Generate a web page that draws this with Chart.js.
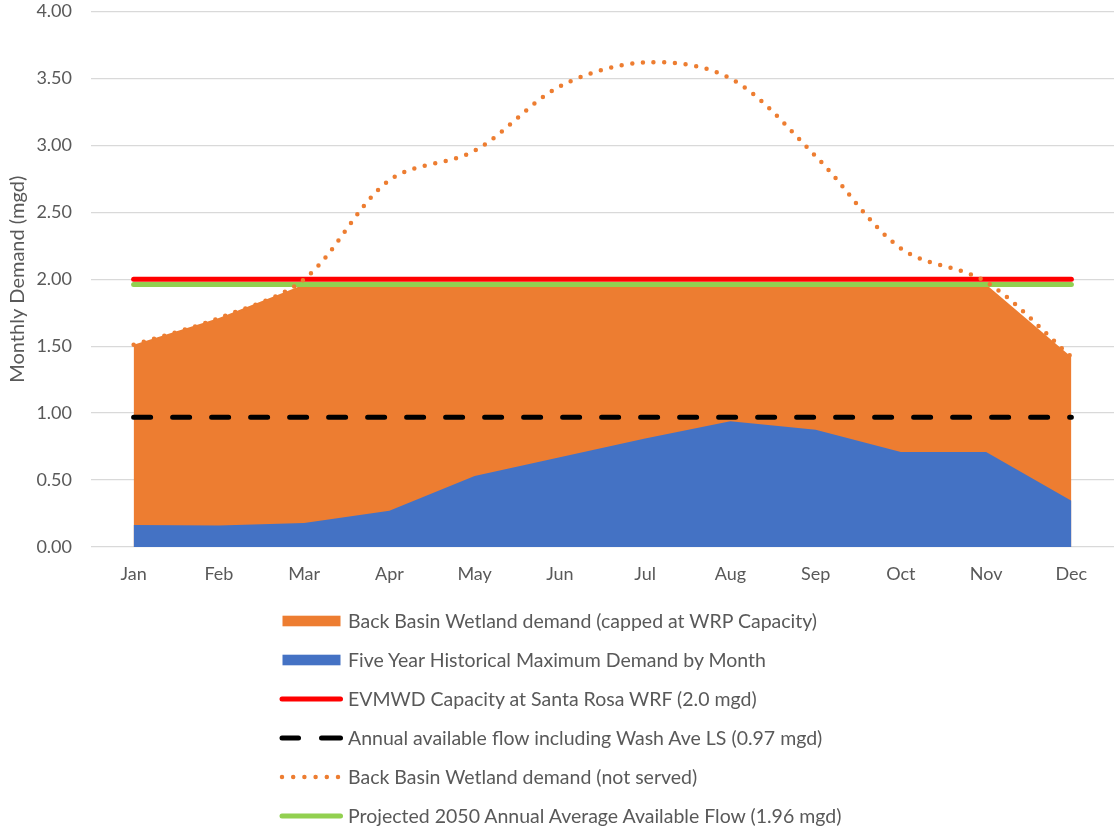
<!DOCTYPE html>
<html>
<head>
<meta charset="utf-8">
<script src="https://cdn.jsdelivr.net/npm/chart.js@4.4.1/dist/chart.umd.min.js"></script>
<style>
  html, body { margin: 0; padding: 0; background: #ffffff; overflow: hidden; }
  #wrap { position: relative; width: 1114px; height: 829px; }
  #legend { position: absolute; left: 279px; top: 0; font-family: Lato, "Open Sans", sans-serif; font-size: 19.5px; color: #595959; }
  .item { position: absolute; left: 0; height: 22px; white-space: nowrap; display: flex; align-items: center; }
  .item svg { flex: none; }
  .item span { margin-left: 5px; line-height: 22px; }
</style>
</head>
<body>
<div id="wrap">
  <canvas id="c" width="1114" height="829"></canvas>
  <div id="legend"></div>
</div>
<script>
const months = ["Jan","Feb","Mar","Apr","May","Jun","Jul","Aug","Sep","Oct","Nov","Dec"];
const cappedDemand = [1.51, 1.71, 1.96, 1.96, 1.96, 1.96, 1.96, 1.96, 1.96, 1.96, 1.96, 1.42];
const historicalMax = [0.165, 0.16, 0.18, 0.27, 0.53, 0.67, 0.81, 0.94, 0.875, 0.71, 0.71, 0.345];
const wrfCapacity = [2.0, 2.0, 2.0, 2.0, 2.0, 2.0, 2.0, 2.0, 2.0, 2.0, 2.0, 2.0];
const annualFlow = [0.97, 0.97, 0.97, 0.97, 0.97, 0.97, 0.97, 0.97, 0.97, 0.97, 0.97, 0.97];
const notServed = [1.51, 1.71, 2.0, 2.74, 2.96, 3.44, 3.62, 3.50, 2.92, 2.23, 1.98, 1.42];
const projected2050 = [1.96, 1.96, 1.96, 1.96, 1.96, 1.96, 1.96, 1.96, 1.96, 1.96, 1.96, 1.96];
const yTicks = [0, 0.5, 1, 1.5, 2, 2.5, 3, 3.5, 4];

const labels = {
  capped: "Back Basin Wetland demand (capped at WRP Capacity)",
  hist: "Five Year Historical Maximum Demand by Month",
  wrf: "EVMWD Capacity at Santa Rosa WRF (2.0 mgd)",
  annual: "Annual available flow including Wash Ave LS (0.97 mgd)",
  notServed: "Back Basin Wetland demand (not served)",
  proj: "Projected 2050 Annual Average Available Flow (1.96 mgd)"
};

const FONT = 'Lato, "Open Sans", sans-serif';
const GREY = '#595959';

const chart = new Chart(document.getElementById('c'), {
  type: 'line',
  data: {
    labels: months,
    datasets: [
      { label: labels.capped, data: cappedDemand, fill: 'origin', backgroundColor: '#ed7d31', borderWidth: 0, pointRadius: 0, tension: 0, order: 5 },
      { label: labels.hist, data: historicalMax, fill: 'origin', backgroundColor: '#4472c4', borderWidth: 0, pointRadius: 0, tension: 0, order: 4 },
      { label: labels.wrf, data: wrfCapacity, fill: false, borderColor: '#ff0000', borderWidth: 5, borderCapStyle: 'round', pointRadius: 0, order: 1 },
      { label: labels.annual, data: annualFlow, fill: false, borderColor: '#000000', borderWidth: 5, borderDash: [17, 22], borderCapStyle: 'round', pointRadius: 0, order: 3 },
      { label: labels.notServed, data: notServed, fill: false, borderColor: '#ed7d31', borderWidth: 4.5, borderDash: [0, 10.7], borderCapStyle: 'round', pointRadius: 0, tension: 0.33, order: 0 },
      { label: labels.proj, data: projected2050, fill: false, borderColor: '#92d050', borderWidth: 5, borderCapStyle: 'round', pointRadius: 0, order: 2 }
    ]
  },
  options: {
    responsive: false,
    animation: false,
    events: [],
    layout: { padding: { top: 11.5, right: -1.5, bottom: 242, left: 0 } },
    plugins: { legend: { display: false }, tooltip: { enabled: false } },
    scales: {
      x: {
        type: 'category',
        offset: true,
        grid: { display: false, drawTicks: false },
        border: { display: false },
        ticks: { color: GREY, font: { family: FONT, size: 18 }, padding: 16, maxRotation: 0 },
        afterFit: s => { s.height = 40; s.paddingLeft = 0; s.paddingRight = 0; }
      },
      y: {
        min: 0, max: 4,
        afterBuildTicks: s => { s.ticks = yTicks.map(v => ({ value: v })); },
        grid: { color: '#d9d9d9', lineWidth: 1.3, drawTicks: false },
        border: { display: false },
        ticks: { color: GREY, font: { family: FONT, size: 18 }, padding: 19, callback: v => Number(v).toFixed(2) },
        title: { display: true, text: 'Monthly Demand (mgd)', color: GREY, font: { family: FONT, size: 20 }, padding: { top: 6, bottom: 0 } },
        afterFit: s => { s.width = 91; s.paddingTop = 0; s.paddingBottom = 0; }
      }
    }
  }
});

// HTML legend built from the chart datasets
const legendEl = document.getElementById('legend');
const rowTops = [610, 649, 688, 727, 766, 805];
const swatch = (ds, i) => {
  const w = 64, h = 22;
  let inner = '';
  if (i === 0 || i === 1) {
    inner = `<rect x="3.5" y="5.7" width="58" height="10.6" fill="${ds.backgroundColor}"/>`;
  } else if (ds.borderDash && ds.borderDash[0] === 0) {
    inner = `<line x1="3" y1="11" x2="61" y2="11" stroke="${ds.borderColor}" stroke-width="4.5" stroke-linecap="round" stroke-dasharray="0 11.2"/>`;
  } else if (ds.borderDash) {
    inner = `<line x1="3" y1="11" x2="19.5" y2="11" stroke="${ds.borderColor}" stroke-width="5" stroke-linecap="round"/><line x1="42.5" y1="11" x2="61.5" y2="11" stroke="${ds.borderColor}" stroke-width="5" stroke-linecap="round"/>`;
  } else {
    inner = `<line x1="3" y1="11" x2="61.5" y2="11" stroke="${ds.borderColor}" stroke-width="5" stroke-linecap="round"/>`;
  }
  return `<svg width="${w}" height="${h}">${inner}</svg>`;
};
chart.data.datasets.forEach((ds, i) => {
  const d = document.createElement('div');
  d.className = 'item';
  d.style.top = rowTops[i] + 'px';
  d.innerHTML = swatch(ds, i) + `<span>${ds.label}</span>`;
  legendEl.appendChild(d);
});
</script>
</body>
</html>
